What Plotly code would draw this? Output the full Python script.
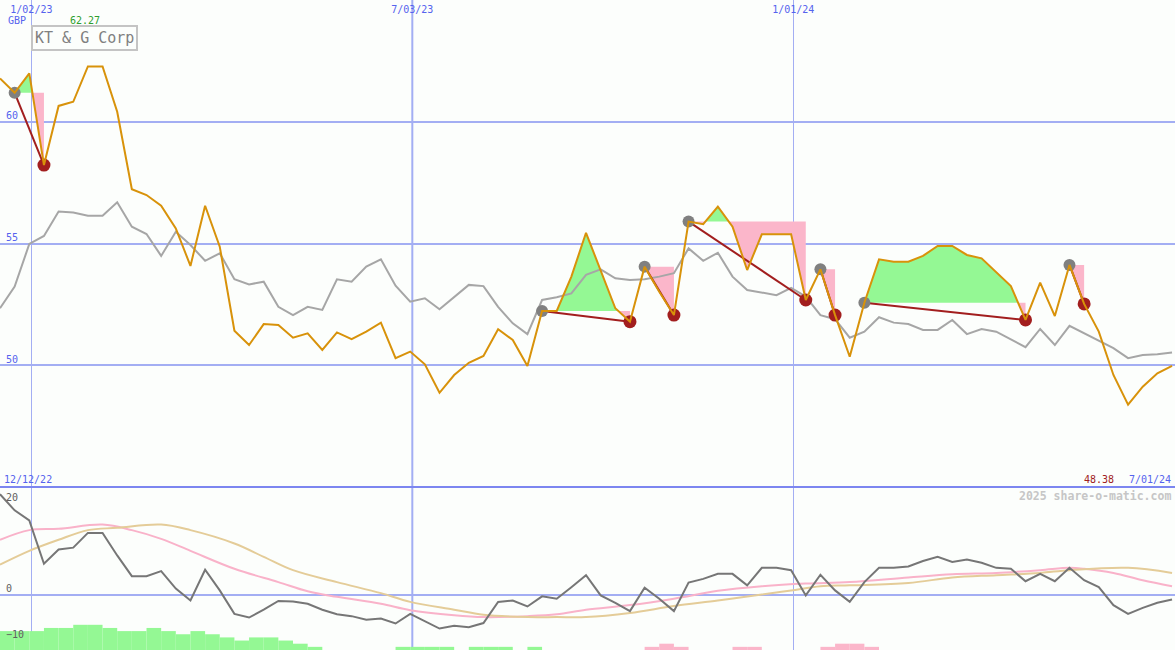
import pandas as pd
import plotly.graph_objects as go

W, H = 1175, 650
FONT = "DejaVu Sans Mono"
BLUE_TXT = "#5563EE"
GRID = "#A3AEF3"
SEP = "#7C86F0"
BG = "#FCFEFC"

# weekly data
dates = pd.date_range("2022-12-18", periods=81, freq="7D")

price = [61.78, 61.19, 61.99, 58.22, 60.65, 60.82, 62.27, 62.27, 60.41, 57.23,
         56.99, 56.55, 55.62, 54.08, 56.55, 54.87, 51.42, 50.83, 51.69, 51.65,
         51.13, 51.31, 50.63, 51.35, 51.07, 51.38, 51.75, 50.29, 50.56, 50.04,
         48.87, 49.60, 50.10, 50.38, 51.48, 51.04, 49.97, 52.23, 52.23, 53.64,
         55.44, 53.91, 52.34, 51.79, 54.05, 53.02, 52.06, 55.90, 55.79, 56.51,
         55.69, 53.91, 55.38, 55.38, 55.38, 52.68, 53.94, 52.06, 50.35, 52.57,
         54.35, 54.25, 54.25, 54.49, 54.90, 54.90, 54.53, 54.39, 53.84, 53.25,
         51.86, 53.39, 52.02, 54.12, 52.52, 51.38, 49.60, 48.38, 49.12, 49.67,
         49.97]

avg = [52.34, 53.23, 54.98, 55.31, 56.31, 56.27, 56.14, 56.14, 56.69, 55.69,
       55.39, 54.49, 55.48, 54.94, 54.29, 54.60, 53.53, 53.32, 53.43, 52.40,
       52.06, 52.40, 52.27, 53.53, 53.43, 54.05, 54.35, 53.27, 52.61, 52.75,
       52.30, 52.82, 53.30, 53.25, 52.40, 51.72, 51.28, 52.68, 52.79, 52.95,
       53.71, 53.94, 53.57, 53.50, 53.53, 53.64, 53.78, 54.80, 54.29, 54.62,
       53.64, 53.09, 52.98, 52.88, 53.18, 52.82, 52.06, 51.89, 51.13, 51.38,
       51.97, 51.75, 51.69, 51.45, 51.45, 51.86, 51.28, 51.49, 51.38, 51.07,
       50.74, 51.49, 50.83, 51.62, 51.31, 51.00, 50.70, 50.29, 50.42, 50.45,
       50.52]

buy_idx = [1, 37, 44, 47, 56, 59, 73]
sell_idx = [3, 43, 46, 55, 57, 70, 74]

osc = [21.9, 18.4, 16.2, 6.8, 9.9, 10.3, 13.5, 13.5, 8.6, 4.1,
       4.1, 5.2, 1.4, -1.2, 5.5, 1.0, -4.1, -4.9, -3.2, -1.3,
       -1.4, -1.9, -3.2, -4.2, -4.6, -5.4, -5.1, -6.2, -4.1, -5.7,
       -7.3, -6.7, -7.0, -6.1, -1.5, -1.2, -2.5, -0.3, -0.8, 1.7,
       4.3, -0.1, -1.7, -3.5, 1.6, -0.8, -3.5, 2.7, 3.5, 4.6,
       4.6, 2.1, 5.9, 5.9, 5.4, -0.1, 4.4, 1.0, -1.5, 2.8,
       5.9, 5.9, 6.2, 7.4, 8.3, 7.2, 7.7, 7.0, 5.9, 5.7,
       3.0, 4.6, 3.0, 5.9, 3.2, 1.7, -2.2, -4.1, -2.8, -1.7,
       -1.0]

pink_wk = [0, 2, 4, 7, 9, 11, 13, 16, 19, 21, 23, 26, 28, 31, 33, 36, 38, 40,
           43, 46, 49, 52, 55, 58, 62, 65, 68, 71, 73, 74, 76, 78, 80]
pink_val = [12.0, 14.1, 14.4, 15.3, 14.1, 12.2, 9.6, 5.7, 2.8, 0.8, -0.4, -1.9,
            -3.3, -4.4, -4.8, -4.6, -4.2, -3.2, -2.2, -0.8, 0.9, 1.9, 2.5, 2.8,
            3.8, 4.5, 4.8, 5.4, 5.9, 5.7, 4.8, 3.2, 1.9]

tan_wk = [0, 2, 4, 6, 8, 11, 13, 16, 18, 20, 23, 26, 28, 31, 33, 36, 38, 40,
          43, 46, 49, 52, 54, 56, 58, 62, 65, 68, 71, 73, 77, 80]
tan_val = [6.6, 9.6, 12.0, 14.1, 14.6, 15.3, 14.1, 11.2, 8.3, 5.4, 2.8, 0.4,
           -1.5, -3.2, -4.3, -4.8, -4.8, -4.8, -3.9, -2.4, -1.2, 0.1, 1.0, 1.9,
           2.1, 2.6, 3.8, 4.3, 4.8, 5.4, 5.9, 4.8]

hist_up = [6, 6, 6, 7, 7, 8, 8, 7, 6, 6, 7, 6, 5, 6, 5, 4, 3, 4, 4, 3,
           2, 1, 0, 0, 0, 0, 0, 1, 1, 1, 1, 0, 1, 1, 1, 0, 1] + [0] * 44
hist_dn = [0] * 44 + [1, 2, 1, 0, 0, 0, 1, 1, 0, 0, 0, 0, 1, 2, 2, 1] + [0] * 21

grid_dates = ["2023-01-02", "2023-07-03", "2024-01-01"]
grid_labels = ["1/02/23", "7/03/23", "1/01/24"]


def py(px):
    return 1 - px / H


def px_x(px):
    return px / W


def split_fill(xs, ys, level):
    ox, oy = [xs[0]], [ys[0]]
    for i in range(1, len(xs)):
        y0, y1 = ys[i - 1], ys[i]
        if (y0 - level) * (y1 - level) < 0:
            t = (level - y0) / (y1 - y0)
            ox.append(xs[i - 1] + (xs[i] - xs[i - 1]) * t)
            oy.append(level)
        ox.append(xs[i])
        oy.append(ys[i])
    return ox, oy


fig = go.Figure()

# histogram (bottom panel, base axis)
week = 7 * 24 * 3600 * 1000
fig.add_trace(go.Bar(x=dates, y=hist_up, width=week, offset=0, marker_color="#94F894",
                     marker_line_width=0, xaxis="x2", yaxis="y2"))
fig.add_trace(go.Bar(x=dates, y=hist_dn, width=week, offset=0, marker_color="#FBB6CA",
                     marker_line_width=0, xaxis="x2", yaxis="y2"))

# oscillator lines
fig.add_trace(go.Scatter(x=dates[pink_wk], y=pink_val, mode="lines", line_shape="spline",
                         line=dict(color="#F9B2C9", width=2), xaxis="x2", yaxis="y3"))
fig.add_trace(go.Scatter(x=dates[tan_wk], y=tan_val, mode="lines", line_shape="spline",
                         line=dict(color="#E4CC98", width=2), xaxis="x2", yaxis="y3"))
fig.add_trace(go.Scatter(x=dates, y=osc, mode="lines",
                         line=dict(color="#767676", width=2), xaxis="x2", yaxis="y3"))

# trade fills
for g, r in zip(buy_idx, sell_idx):
    level = price[g]
    fx, fy = split_fill(list(dates[g:r + 1]), price[g:r + 1], level)
    up = [max(v, level) for v in fy]
    dn = [min(v, level) for v in fy]
    fig.add_trace(go.Scatter(x=fx + fx[::-1], y=up + [level] * len(fx), fill="toself",
                             fillcolor="#94F894", mode="lines", line=dict(width=0)))
    fig.add_trace(go.Scatter(x=fx + fx[::-1], y=dn + [level] * len(fx), fill="toself",
                             fillcolor="#FBB6CA", mode="lines", line=dict(width=0)))

# moving average
fig.add_trace(go.Scatter(x=dates, y=avg, mode="lines", line=dict(color="#A6A6A6", width=2)))

# trade lines
lx, ly = [], []
for g, r in zip(buy_idx, sell_idx):
    lx += [dates[g], dates[r], None]
    ly += [price[g], price[r], None]
fig.add_trace(go.Scatter(x=lx, y=ly, mode="lines", line=dict(color="#A21E1E", width=2)))

fig.add_trace(go.Scatter(x=dates[buy_idx], y=[price[i] for i in buy_idx], mode="markers",
                         marker=dict(color="#808080", size=12)))
fig.add_trace(go.Scatter(x=dates[sell_idx], y=[price[i] for i in sell_idx], mode="markers",
                         marker=dict(color="#A21E1E", size=13)))

# price
fig.add_trace(go.Scatter(x=dates, y=price, mode="lines", line=dict(color="#D8920A", width=2)))

split = 163 / H
xr = ["2022-12-18", "2024-07-01 10:00"]

fig.update_layout(
    width=W, height=H,
    margin=dict(l=0, r=0, t=0, b=0),
    paper_bgcolor=BG, plot_bgcolor=BG,
    showlegend=False,
    barmode="overlay",
    font=dict(family=FONT, size=10, color=BLUE_TXT),
    xaxis=dict(domain=[0, 1], anchor="y", range=xr, tickvals=grid_dates, ticktext=grid_labels,
               side="top", ticklabelposition="inside", ticklabelstandoff=3, ticks="",
               showgrid=True, gridcolor=GRID, gridwidth=1, zeroline=False, showline=False,
               tickfont=dict(family=FONT, size=10, color=BLUE_TXT)),
    xaxis2=dict(domain=[0, 1], anchor="y2", matches="x", range=xr, tickvals=grid_dates,
                showticklabels=False, ticks="", showgrid=True, gridcolor=GRID, gridwidth=1,
                zeroline=False, showline=False),
    yaxis=dict(domain=[split, 1], anchor="x", range=[45, 65], tickvals=[50, 55, 60],
               ticklabelposition="inside", ticklabelshift=-6, ticklabelstandoff=3, ticks="",
               showgrid=True, gridcolor=GRID, gridwidth=2, zeroline=False, showline=False,
               tickfont=dict(family=FONT, size=10, color=BLUE_TXT)),
    yaxis2=dict(domain=[0, split], anchor="x2", range=[0, 51.75], showgrid=False,
                showticklabels=False, ticks="", zeroline=False, showline=False),
    yaxis3=dict(overlaying="y2", anchor="x2", range=[-11.96, 23.48], tickvals=[20, 0, -10],
                ticklabelposition="inside", ticklabelshift=-6, ticklabelstandoff=3, ticks="",
                showgrid=False, zeroline=True, zerolinecolor=GRID, zerolinewidth=2,
                showline=False, tickfont=dict(family=FONT, size=10, color="#606060")),
    shapes=[
        dict(type="line", xref="x", yref="paper", x0="2023-07-03", x1="2023-07-03",
             y0=0, y1=1, line=dict(color=GRID, width=2), layer="below"),
        dict(type="line", xref="paper", yref="paper", x0=0, x1=1, y0=split, y1=split,
             line=dict(color=SEP, width=2)),
    ],
    annotations=[
        dict(text="GBP", x=px_x(6), y=py(21), xref="paper", yref="paper", xanchor="left",
             yanchor="middle", showarrow=False, font=dict(family=FONT, size=10, color=BLUE_TXT)),
        dict(text="62.27", x=px_x(68), y=py(21), xref="paper", yref="paper", xanchor="left",
             yanchor="middle", showarrow=False, font=dict(family=FONT, size=10, color="#2E9E2E")),
        dict(text="KT & G Corp", x=px_x(31), y=py(25), xref="paper", yref="paper",
             xanchor="left", yanchor="top", showarrow=False, bordercolor="#C4C4C4",
             borderwidth=2, borderpad=2, bgcolor=BG,
             font=dict(family=FONT, size=15, color="#808080")),
        dict(text="12/12/22", x=px_x(2), y=py(479), xref="paper", yref="paper",
             xanchor="left", yanchor="middle", showarrow=False,
             font=dict(family=FONT, size=10, color=BLUE_TXT)),
        dict(text="48.38", x=px_x(1082), y=py(479), xref="paper", yref="paper",
             xanchor="left", yanchor="middle", showarrow=False,
             font=dict(family=FONT, size=10, color="#A02020")),
        dict(text="7/01/24", x=px_x(1173), y=py(479), xref="paper", yref="paper",
             xanchor="right", yanchor="middle", showarrow=False,
             font=dict(family=FONT, size=10, color=BLUE_TXT)),
        dict(text="<b>2025 share-o-matic.com</b>", x=px_x(1173), y=py(496), xref="paper",
             yref="paper", xanchor="right", yanchor="middle", showarrow=False,
             font=dict(family=FONT, size=11.5, color="#C6C6C6")),
    ],
)

fig.write_html("out.html", config={"displayModeBar": False},
               post_script="document.body.style.margin='0';")
